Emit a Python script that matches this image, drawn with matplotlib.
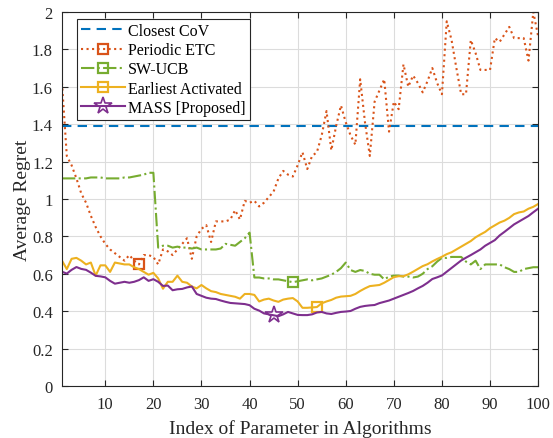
import matplotlib
matplotlib.use("Agg")
import matplotlib.pyplot as plt

# index of parameter (1..100)
idx = list(range(1, 101))

closest_cov = 1.39

periodic_etc = [1.62, 1.23, 1.18, 1.11, 1.03, 0.98, 0.91, 0.85, 0.80, 0.76,
                0.73, 0.71, 0.69, 0.67, 0.70, 0.67, 0.65, 0.70, 0.70, 0.69,
                0.65, 0.73, 0.72, 0.70, 0.73, 0.76, 0.79, 0.68, 0.80, 0.84,
                0.86, 0.77, 0.88, 0.88, 0.88, 0.89, 0.94, 0.89, 0.99, 0.98,
                0.99, 0.96, 0.98, 1.01, 1.04, 1.11, 1.15, 1.13, 1.12, 1.18,
                1.25, 1.16, 1.23, 1.25, 1.34, 1.47, 1.26, 1.39, 1.50, 1.41,
                1.34, 1.29, 1.64, 1.41, 1.23, 1.52, 1.58, 1.64, 1.36, 1.52,
                1.48, 1.72, 1.60, 1.66, 1.62, 1.57, 1.63, 1.70, 1.62, 1.56,
                1.95, 1.85, 1.70, 1.56, 1.56, 1.85, 1.78, 1.69, 1.69, 1.69,
                1.86, 1.84, 1.88, 1.92, 1.86, 1.86, 1.86, 1.74, 2.00, 1.87]

sw_ucb = [1.11, 1.11, 1.11, 1.11, 1.11, 1.11, 1.115, 1.115, 1.115, 1.11,
          1.11, 1.11, 1.11, 1.115, 1.115, 1.12, 1.125, 1.13, 1.14, 1.14,
          0.74, 0.75, 0.75, 0.74, 0.745, 0.74, 0.74, 0.735, 0.74, 0.73,
          0.73, 0.73, 0.73, 0.735, 0.76, 0.755, 0.75, 0.77, 0.79, 0.82,
          0.58, 0.58, 0.575, 0.575, 0.57, 0.57, 0.565, 0.56, 0.555, 0.56,
          0.565, 0.57, 0.565, 0.57, 0.575, 0.585, 0.595, 0.61, 0.63, 0.66,
          0.62, 0.61, 0.62, 0.615, 0.60, 0.595, 0.595, 0.57, 0.585, 0.59,
          0.59, 0.585, 0.585, 0.58, 0.585, 0.60, 0.625, 0.64, 0.665, 0.685,
          0.685, 0.69, 0.69, 0.69, 0.665, 0.65, 0.67, 0.625, 0.65, 0.65,
          0.65, 0.65, 0.635, 0.625, 0.61, 0.61, 0.625, 0.63, 0.635, 0.635]

earliest = [0.67, 0.625, 0.68, 0.685, 0.67, 0.65, 0.66, 0.59, 0.645, 0.645,
            0.61, 0.66, 0.655, 0.65, 0.65, 0.635, 0.625, 0.61, 0.595, 0.605,
            0.575, 0.52, 0.557, 0.557, 0.59, 0.557, 0.552, 0.532, 0.522, 0.54,
            0.522, 0.507, 0.502, 0.492, 0.487, 0.482, 0.477, 0.467, 0.492, 0.492,
            0.487, 0.452, 0.462, 0.467, 0.457, 0.45, 0.462, 0.467, 0.47, 0.452,
            0.418, 0.418, 0.42, 0.422, 0.442, 0.452, 0.46, 0.472, 0.478, 0.48,
            0.482, 0.492, 0.508, 0.522, 0.534, 0.537, 0.54, 0.552, 0.567, 0.582,
            0.587, 0.587, 0.597, 0.611, 0.626, 0.641, 0.651, 0.666, 0.679, 0.691,
            0.705, 0.715, 0.73, 0.745, 0.76, 0.775, 0.795, 0.81, 0.824, 0.844,
            0.859, 0.874, 0.884, 0.899, 0.919, 0.928, 0.933, 0.948, 0.958, 0.973]

mass = [0.611, 0.601, 0.621, 0.636, 0.626, 0.621, 0.606, 0.589, 0.586, 0.581,
        0.562, 0.547, 0.552, 0.557, 0.552, 0.557, 0.566, 0.581, 0.562, 0.571,
        0.557, 0.535, 0.537, 0.512, 0.517, 0.519, 0.527, 0.532, 0.492, 0.482,
        0.472, 0.467, 0.465, 0.457, 0.45, 0.444, 0.442, 0.44, 0.438, 0.432,
        0.413, 0.403, 0.388, 0.383, 0.378, 0.373, 0.383, 0.396, 0.388, 0.38,
        0.379, 0.379, 0.383, 0.393, 0.396, 0.388, 0.385, 0.391, 0.396, 0.398,
        0.401, 0.413, 0.423, 0.428, 0.431, 0.433, 0.443, 0.45, 0.457, 0.467,
        0.477, 0.487, 0.497, 0.508, 0.522, 0.535, 0.552, 0.572, 0.581, 0.591,
        0.611, 0.631, 0.651, 0.671, 0.686, 0.7, 0.715, 0.73, 0.75, 0.765,
        0.78, 0.805, 0.824, 0.844, 0.864, 0.879, 0.894, 0.909, 0.929, 0.948]

plt.rcParams['font.family'] = ['Liberation Serif', 'DejaVu Serif']

fig = plt.figure(figsize=(5.53, 4.39), dpi=100)
ax = fig.add_axes([0.1121, 0.1185, 0.861, 0.852])

lw = 1.5
ax.axhline(closest_cov, color='#0072BD', linestyle=(0, (4.5, 3)), lw=lw, label='Closest CoV')
ax.plot(idx, periodic_etc, color='#D95319', linestyle=':', lw=lw, marker='s', markersize=7,
        markerfacecolor='none', markeredgewidth=1.6, markevery=[16], label='Periodic ETC')
ax.plot(idx, sw_ucb, color='#77AC30', linestyle='-.', lw=lw, marker='s', markersize=7,
        markerfacecolor='none', markeredgewidth=1.6, markevery=[48], label='SW-UCB')
ax.plot(idx, earliest, color='#EDB120', linestyle='-', lw=lw, marker='s', markersize=7,
        markerfacecolor='none', markeredgewidth=1.6, markevery=[53], label='Earliest Activated')
ax.plot(idx, mass, color='#7E2F8E', linestyle='-', lw=lw, marker='*', markersize=13,
        markerfacecolor='none', markeredgewidth=1.2, markevery=[44], label='MASS [Proposed]')

ax.set_xlim(1, 100)
ax.set_ylim(0, 2)
ax.set_xticks(range(10, 101, 10))
ax.set_yticks([i * 0.2 for i in range(11)])
ax.set_yticklabels(['0', '0.2', '0.4', '0.6', '0.8', '1', '1.2', '1.4', '1.6', '1.8', '2'])
ax.tick_params(direction='in', top=True, right=True, labelsize=12, colors='#262626', length=4)
ax.tick_params(axis='x', pad=7)
ax.tick_params(axis='y', pad=6.5)
ax.grid(True, color='#dcdcdc', lw=0.8)
ax.set_axisbelow(True)
for s in ax.spines.values():
    s.set_color('#262626')
    s.set_linewidth(0.8)

ax.set_xlabel('Index of Parameter in Algorithms', fontsize=14, color='#262626', labelpad=5)
ax.set_ylabel('Average Regret', fontsize=14, color='#262626', labelpad=1)

leg = ax.legend(loc='upper left', bbox_to_anchor=(0.0315, 0.981), borderaxespad=0,
                fontsize=11.5, frameon=True, fancybox=False, edgecolor='#262626',
                framealpha=1, handlelength=2.75, borderpad=0.25, labelspacing=0.2,
                handletextpad=0.2)
leg.get_frame().set_linewidth(0.8)

fig.savefig('out.png', dpi=100)
